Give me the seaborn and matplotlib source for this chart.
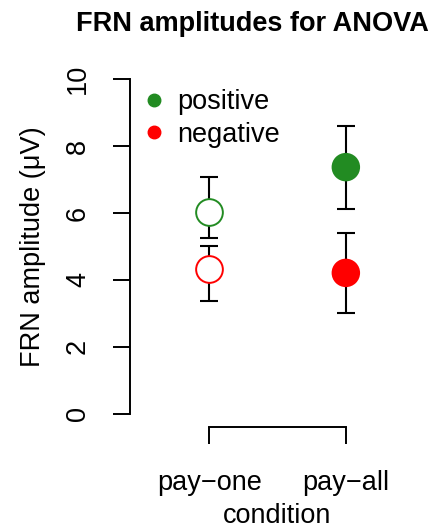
import matplotlib
matplotlib.use("Agg")
import matplotlib.pyplot as plt
from matplotlib.lines import Line2D
import seaborn as sns
import pandas as pd

# FRN 평균과 오차 범위
conditions = ["pay\u2212one", "pay\u2212all"]
valence = ["positive", "negative"]
colors = {"positive": "#228B22", "negative": "#FF0000"}

mean_pos = [6.03, 7.37]
mean_neg = [4.33, 4.21]
upper_pos = [7.07, 8.60]
lower_pos = [5.25, 6.12]
upper_neg = [5.01, 5.40]
lower_neg = [3.37, 3.01]

rows = []
for i, c in enumerate(conditions):
    rows.append([c, i + 1, "positive", mean_pos[i], lower_pos[i], upper_pos[i]])
    rows.append([c, i + 1, "negative", mean_neg[i], lower_neg[i], upper_neg[i]])
df = pd.DataFrame(rows, columns=["condition", "x", "valence", "amp", "lo", "hi"])

sns.set_style("ticks")
plt.rcParams["font.family"] = ["Liberation Sans", "DejaVu Sans"]
plt.rcParams["text.color"] = "black"
plt.rcParams["axes.labelcolor"] = "black"
fs = 19.5

fig = plt.figure(figsize=(4.36, 5.30), dpi=100)
ax = fig.add_axes([0.298, 0.194, 0.677, 0.682])

# 오차 막대
ax.errorbar(df["x"], df["amp"],
            yerr=[df["amp"] - df["lo"], df["hi"] - df["amp"]],
            fmt="none", ecolor="black", elinewidth=1.5, capsize=6.5,
            capthick=1.5, zorder=1)

# pay-all: 채워진 원
filled = df[df["condition"] == conditions[1]]
sns.scatterplot(data=filled, x="x", y="amp", hue="valence", palette=colors,
                s=420, edgecolor="none", legend=False, ax=ax, zorder=3)

# pay-one: 빈 원
open_ = df[df["condition"] == conditions[0]]
for _, r in open_.iterrows():
    ax.scatter(r["x"], r["amp"], s=370, facecolors="white",
               edgecolors=colors[r["valence"]], linewidths=1.4, zorder=3)

ax.set_xlim(0.42, 2.58)
ax.set_ylim(-0.4, 10.4)
ax.set_xticks([1, 2])
ax.set_xticklabels(conditions)
ax.set_yticks([0, 2, 4, 6, 8, 10])
ax.set_yticklabels(["0", "2", "4", "6", "8", "10"], rotation=90, va="center")

sns.despine(ax=ax)
ax.spines["left"].set_bounds(0, 10)
ax.spines["bottom"].set_bounds(1, 2)
for s in ["left", "bottom"]:
    ax.spines[s].set_linewidth(1.4)
    ax.spines[s].set_color("black")
ax.tick_params(axis="both", length=12, width=1.4, color="black",
               labelsize=fs, labelcolor="black")
ax.tick_params(axis="y", pad=16)
ax.tick_params(axis="x", pad=19)

ax.set_xlabel("condition", fontsize=fs, labelpad=5)
ax.set_ylabel("FRN amplitude (\u03bcV)", fontsize=fs, labelpad=14)

handles = [Line2D([], [], marker="o", linestyle="none", color=colors[v],
                  markersize=9, label=v) for v in valence]
ax.legend(handles=handles, loc="upper left", bbox_to_anchor=(0.0, 0.965),
          frameon=False, fontsize=fs, handletextpad=0.35, labelspacing=0.25,
          handlelength=1.0, borderaxespad=0)

fig.text(0.578, 0.955, "FRN amplitudes for ANOVA", ha="center", va="center",
         fontsize=fs, fontweight="bold")

fig.savefig("out.png", dpi=100)
